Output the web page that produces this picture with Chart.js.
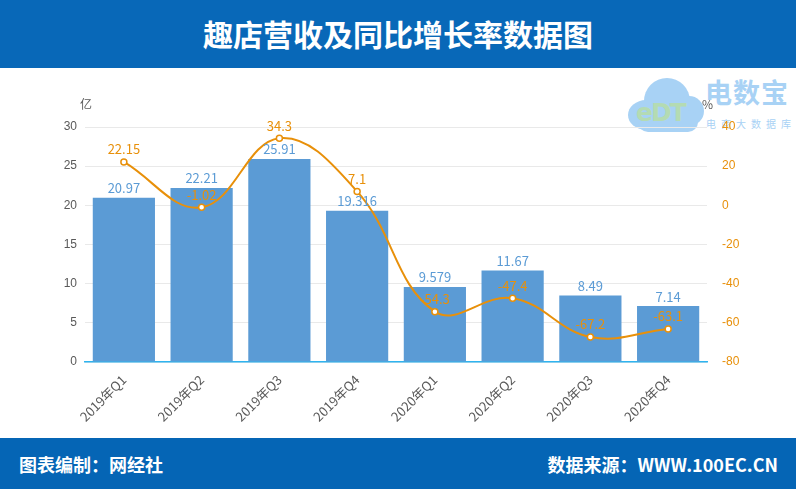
<!DOCTYPE html>
<html>
<head>
<meta charset="utf-8">
<script src="https://cdn.jsdelivr.net/npm/chart.js@4"></script>
<style>
    body { margin: 0; width: 796px; height: 489px; overflow: hidden; background: #fff; font-family: "Noto Sans CJK SC", "Microsoft YaHei", sans-serif; position: relative; }
    #header { position: absolute; left: 0; top: 0; width: 796px; height: 68px; background: #0868B8; color: #fff; font-size: 30px; font-weight: bold; text-align: center; line-height: 66px; }
    #footer { position: absolute; left: 0; top: 438px; width: 796px; height: 51px; background: #0565B5; color: #fff; font-size: 18px; font-weight: bold; }
    #footer .left { position: absolute; left: 19px; top: 13px; }
    #footer .right { position: absolute; right: 18px; top: 13px; }
    #chartBox { position: absolute; left: 0; top: 68px; width: 796px; height: 370px; z-index: 2; }
    #logo { position: absolute; left: 626px; top: 70px; width: 170px; height: 64px; z-index: 1; opacity: 0.75; white-space: nowrap; }
    .cloud { position: absolute; background: #8CC3F2; border-radius: 50%; }
    #logo .brand { position: absolute; left: 79px; top: 6px; font-size: 27px; font-weight: bold; color: #8CC3F2; letter-spacing: 1px; line-height: 32px; }
    #logo .sub { position: absolute; left: 80px; top: 47px; font-size: 10px; color: #8CC3F2; letter-spacing: 5px; line-height: 14px; }
    #logo .edt { position: absolute; left: 10px; top: 28px; font-size: 25px; font-weight: bold; color: #9BD09A; font-family: "DejaVu Sans", sans-serif; letter-spacing: -2px; line-height: 30px; }
    .unit { position: absolute; font-size: 12px; z-index: 3; }
</style>
</head>
<body>
<div id="header">趣店营收及同比增长率数据图</div>
<div id="logo">
    <div class="cloud" style="left:2px;top:30px;width:36px;height:30px;"></div>
    <div class="cloud" style="left:18px;top:8px;width:46px;height:46px;"></div>
    <div class="cloud" style="left:48px;top:26px;width:30px;height:30px;"></div>
    <div class="cloud" style="left:12px;top:40px;width:60px;height:22px;border-radius:10px;"></div>
    <div class="edt">eDT</div>
    <div class="brand">电数宝</div>
    <div class="sub">电商大数据库</div>
</div>
<div class="unit" style="left:80px;top:95px;color:#595959;">亿</div>
<div class="unit" style="left:702px;top:95px;color:#595959;">%</div>
<div id="chartBox"><canvas id="chart"></canvas></div>
<div id="footer"><span class="left">图表编制：网经社</span><span class="right">数据来源：WWW.100EC.CN</span></div>

<script>
const categories = ["2019年Q1", "2019年Q2", "2019年Q3", "2019年Q4", "2020年Q1", "2020年Q2", "2020年Q3", "2020年Q4"];
const revenue = [20.97, 22.21, 25.91, 19.316, 9.579, 11.67, 8.49, 7.14];
const revenueLabels = ["20.97", "22.21", "25.91", "19.316", "9.579", "11.67", "8.49", "7.14"];
const growth = [22.15, -1.02, 34.3, 7.1, -54.3, -47.4, -67.2, -63.1];
const growthLabels = ["22.15", "-1.02", "34.3", "7.1", "-54.3", "-47.4", "-67.2", "-63.1"];
const leftTicks = [0, 5, 10, 15, 20, 25, 30];
const rightTicks = [-80, -60, -40, -20, 0, 20, 40];

const barColor = "#5B9BD5";
const lineColor = "#E8900A";

// Draw value labels above bars and points
const valueLabels = {
    id: "valueLabels",
    afterDatasetsDraw(chart) {
        const ctx = chart.ctx;
        ctx.save();
        ctx.font = "13px 'Noto Sans CJK SC', sans-serif";
        ctx.textAlign = "center";
        ctx.textBaseline = "bottom";
        chart.getDatasetMeta(0).data.forEach((bar, i) => {
            ctx.fillStyle = barColor;
            ctx.fillText(revenueLabels[i], bar.x, bar.y - 3);
        });
        chart.getDatasetMeta(1).data.forEach((pt, i) => {
            ctx.fillStyle = lineColor;
            ctx.fillText(growthLabels[i], pt.x, pt.y - 6);
        });
        ctx.restore();
    },
};

const ctx = document.getElementById("chart").getContext("2d");
new Chart(ctx, {
    data: {
        labels: categories,
        datasets: [
            {
                type: "bar",
                label: "营收",
                data: revenue,
                backgroundColor: barColor,
                yAxisID: "y",
                barPercentage: 0.8,
                categoryPercentage: 1,
                order: 2,
            },
            {
                type: "line",
                label: "同比增长率",
                data: growth,
                borderColor: lineColor,
                borderWidth: 2,
                backgroundColor: "#fff",
                pointBorderColor: lineColor,
                pointBackgroundColor: "#fff",
                pointRadius: 3,
                pointBorderWidth: 1.5,
                tension: 0.4,
                yAxisID: "y1",
                order: 1,
            },
        ],
    },
    options: {
        responsive: true,
        maintainAspectRatio: false,
        animation: false,
        layout: { padding: { top: 59, left: 0, right: 0, bottom: 0 } },
        plugins: { legend: { display: false }, tooltip: { enabled: false } },
        scales: {
            x: {
                grid: { display: false },
                border: { color: "#2EB4F0", width: 1.5 },
                ticks: {
                    color: "#595959",
                    font: { size: 13, family: "'Noto Sans CJK SC', sans-serif" },
                    minRotation: 45,
                    maxRotation: 45,
                    padding: 2,
                },
                afterFit(scale) { scale.height = 76; },
            },
            y: {
                position: "left",
                min: 0,
                max: 30,
                afterBuildTicks(scale) { scale.ticks = leftTicks.map((v) => ({ value: v })); },
                grid: { color: "#E9E9E9", drawTicks: false },
                border: { display: false },
                ticks: { color: "#595959", font: { size: 12 }, padding: 8 },
                afterFit(scale) { scale.width = 85; },
            },
            y1: {
                position: "right",
                min: -80,
                max: 40,
                afterBuildTicks(scale) { scale.ticks = rightTicks.map((v) => ({ value: v })); },
                grid: { display: false },
                border: { display: false },
                ticks: { color: lineColor, font: { size: 12 }, padding: 7 },
                afterFit(scale) { scale.width = 89; },
            },
        },
    },
    plugins: [valueLabels],
});
</script>
</body>
</html>
